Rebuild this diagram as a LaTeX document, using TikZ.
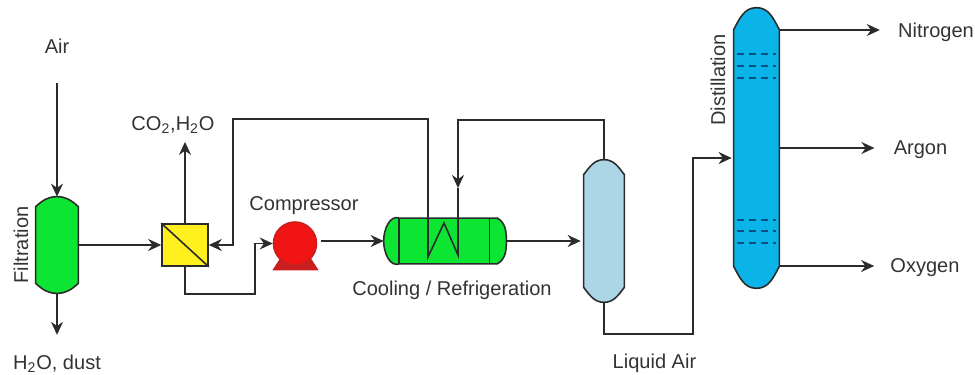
\documentclass[tikz,border=0pt]{standalone}
\usepackage{fontspec}
\setmainfont{Liberation Sans}
\usepackage{xcolor}
\usetikzlibrary{arrows.meta, positioning, calc}
\definecolor{pipegray}{HTML}{2B2B2B}
\definecolor{textgray}{HTML}{333333}
\definecolor{filtergreen}{HTML}{0CE632}
\definecolor{membraneyellow}{HTML}{FFF01E}
\definecolor{compressorred}{HTML}{F01414}
\definecolor{basered}{HTML}{C81E1E}
\definecolor{separatorblue}{HTML}{ABD6E6}
\definecolor{columnblue}{HTML}{0AB4E8}
\definecolor{traydark}{HTML}{0F4E7D}
\tikzset{
	block/.style={draw=pipegray, line width=0.9pt},
	vessel/.style={inner sep=0pt},
	flow/.style={draw=pipegray, line width=0.9pt, -{Stealth[length=0.26cm, width=0.24cm]}},
	stream/.style={text=textgray, font=\fontsize{11.4}{13}\selectfont, inner sep=0pt},
	tray/.style={draw=traydark, line width=0.9pt, dash pattern=on 0.14cm off 0.1cm}
}
\newcommand{\vesselbody}[4]{
	\draw[block, fill=#2] ([yshift=#3]#1.south west) -- ([yshift=-#3]#1.north west)
		to[out=#4, in=180] (#1.north) to[out=0, in=180-#4] ([yshift=-#3]#1.north east)
		-- ([yshift=#3]#1.south east)
		to[out=#4-180, in=0] (#1.south) to[out=180, in=-#4] cycle;
}
\begin{document}
\begin{tikzpicture}
	\useasboundingbox (0,0) rectangle (19.5,7.5);

	\node[vessel, minimum width=0.84cm, minimum height=1.92cm] (filter) at (1.14,2.60) {};
	\vesselbody{filter}{filtergreen}{0.2cm}{42}
	\node[block, fill=membraneyellow, minimum width=0.92cm, minimum height=0.84cm] (membrane) at (3.70,2.60) {};
	\draw[block] (membrane.north west) -- (membrane.south east);

	\draw[draw=basered, fill=basered] (5.46,2.10) -- (6.36,2.10) -- (6.14,2.44) -- (5.68,2.44) -- cycle;
	\node[block, circle, draw=basered, fill=compressorred, inner sep=0pt, minimum size=0.86cm] (compressor) at (5.90,2.63) {};

	\node[vessel, minimum width=2.44cm, minimum height=0.90cm] (cooler) at (8.90,2.68) {};
	\draw[block, fill=filtergreen] ([xshift=0.32cm]cooler.north west) -- ([xshift=-0.18cm]cooler.north east)
		to[out=-30, in=90] (cooler.east) to[out=-90, in=30] ([xshift=-0.18cm]cooler.south east)
		-- ([xshift=0.32cm]cooler.south west)
		to[out=200, in=-90] (cooler.west) to[out=90, in=160] cycle;
	\draw[block] ([xshift=0.31cm]cooler.north west) -- ([xshift=0.31cm]cooler.south west);
	\draw[block] ([xshift=-0.34cm]cooler.north east) -- ([xshift=-0.34cm]cooler.south east);

	\node[vessel, minimum width=0.80cm, minimum height=2.84cm] (separator) at (12.08,2.88) {};
	\vesselbody{separator}{separatorblue}{0.3cm}{52}
	\node[vessel, minimum width=0.90cm, minimum height=5.60cm] (column) at (15.13,4.54) {};
	\vesselbody{column}{columnblue}{0.44cm}{62}
	\foreach \trayy in {6.42, 6.18, 5.94, 3.10, 2.88, 2.64} {
		\draw[tray] (14.74,\trayy) -- (15.52,\trayy);
	}

	\node[stream] (air) at (1.14,6.58) {Air};
	\node[stream] (dust) at (1.14,0.22) {H\textsubscript{2}O, dust};
	\node[stream, rotate=90] (filtration) at (0.42,2.60) {Filtration};
	\node[stream] (offgas) at (3.46,5.00) {CO\textsubscript{2},H\textsubscript{2}O};
	\node[stream] (compressorlabel) at (6.08,3.39) {Compressor};
	\node[stream] (coolinglabel) at (9.04,1.70) {Cooling / Refrigeration};
	\node[stream] (liquidair) at (13.09,0.24) {Liquid Air};
	\node[stream, rotate=90] (distillation) at (14.36,5.90) {Distillation};
	\node[stream] (nitrogen) at (18.72,6.86) {Nitrogen};
	\node[stream] (argon) at (18.41,4.50) {Argon};
	\node[stream] (oxygen) at (18.50,2.14) {Oxygen};

	\coordinate (coilhot) at (8.56,2.36);
	\coordinate (coilpeak) at (8.88,3.04);
	\coordinate (coilcold) at (9.16,2.40);
	\coordinate (coldtip) at (9.16,3.74);
	\coordinate (coldtop) at (9.16,5.10);
	\coordinate (hottop) at (8.56,5.12);
	\coordinate (hotleft) at (4.66,5.12);
	\coordinate (compressorturn) at (5.10,1.62);
	\coordinate (liquidturn) at (13.86,0.82);

	\draw[flow, shorten <=0.58cm] (air.south) -- (filter.north);
	\draw[flow, shorten >=0.40cm] (filter.south) -- (dust.north);
	\draw[flow] (filter.east) -- (membrane.west);
	\draw[flow, shorten >=0.16cm] (membrane.north) -- (membrane.north |- offgas.south);
	\draw[flow] (membrane.south) |- (compressorturn) |- (compressor.west);
	\draw[flow, shorten <=0.07cm] (compressor.east |- cooler.west) -- (cooler.west);
	\draw[flow, shorten >=0.06cm] (cooler.east) -- (separator.west |- cooler.east);
	\draw[flow] (separator.north) |- (coldtop) -- (coldtip);
	\draw[flow] (coldtip) -- (coilcold) -- (coilpeak) -- (coilhot) -- (hottop) -- (hotleft) |- (membrane.east);
	\draw[flow, shorten >=0.04cm] (separator.south) |- (liquidturn) |- ([yshift=-0.2cm]column.west);
	\draw[flow, shorten >=0.36cm] ([yshift=0.04cm]column.east |- nitrogen.west) -- ([yshift=0.04cm]nitrogen.west);
	\draw[flow, shorten >=0.38cm] ([yshift=0.04cm]column.east |- argon.west) -- ([yshift=0.04cm]argon.west);
	\draw[flow, shorten >=0.32cm] ([yshift=0.04cm]column.east |- oxygen.west) -- ([yshift=0.04cm]oxygen.west);
\end{tikzpicture}
\end{document}
